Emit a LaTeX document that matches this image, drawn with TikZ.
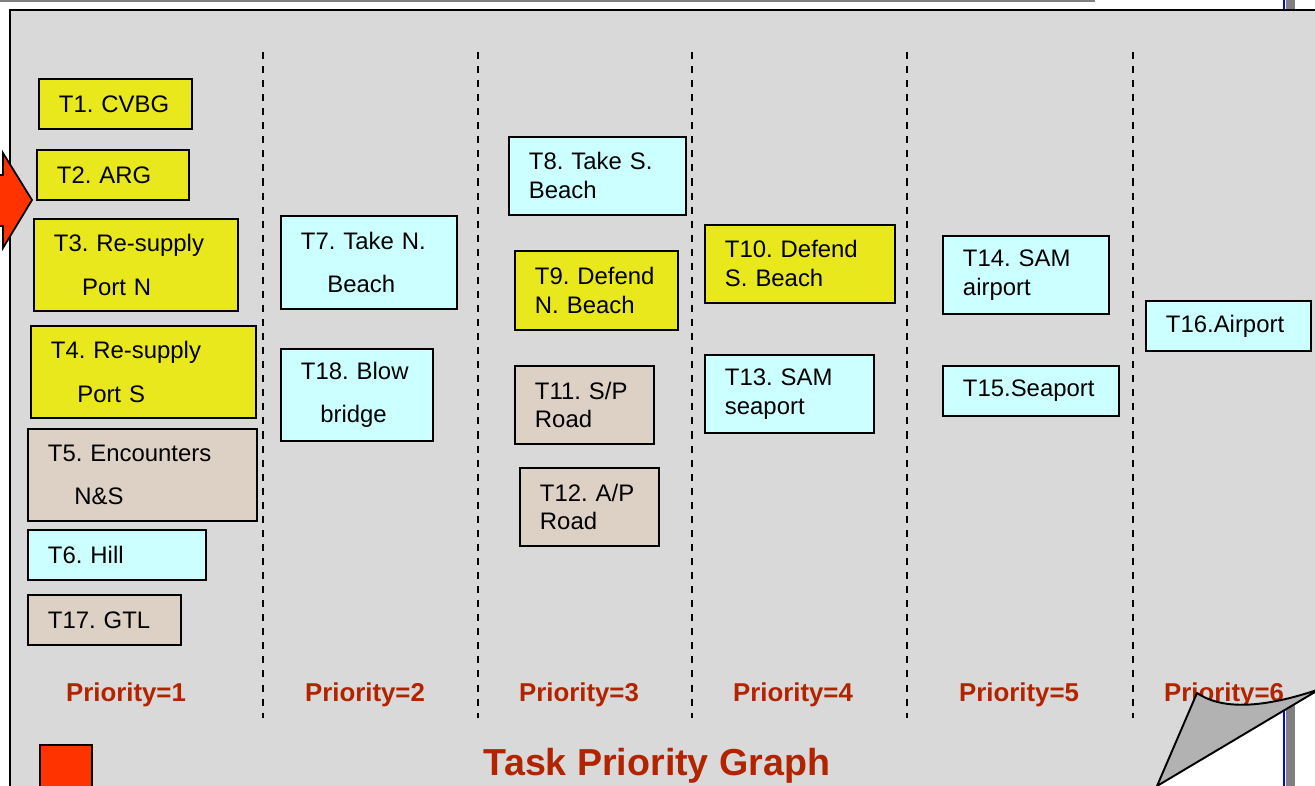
\documentclass[tikz,border=0pt]{standalone}
\usepackage{fontspec}
\setmainfont{Liberation Sans}

\definecolor{panelgray}{RGB}{217,217,217}
\definecolor{taskyellow}{RGB}{232,232,28}
\definecolor{taskcyan}{RGB}{204,255,255}
\definecolor{tasktan}{RGB}{221,208,197}
\definecolor{priored}{RGB}{178,36,0}
\definecolor{arrowred}{RGB}{255,51,0}
\definecolor{flapgray}{RGB}{178,178,178}
\definecolor{bargray}{RGB}{128,128,128}

\newcommand{\taskfont}{\fontsize{13.6pt}{16.5pt}\selectfont\frenchspacing\hyphenpenalty=10000\relax}

\tikzset{
	task/.style={draw, line width=1.1pt, anchor=north west, inner xsep=0.4cm, inner ysep=0pt, align=left, font=\taskfont},
	prio/.style={anchor=base, text=priored, font=\fontsize{14.7pt}{17pt}\selectfont\bfseries},
	divider/.style={dash pattern=on 4pt off 4pt, line width=1.1pt}
}

\begin{document}
\begin{tikzpicture}[x=0.02cm, y=-0.02cm]
	\useasboundingbox (0,0) rectangle (1315,786);
	\clip (0,0) rectangle (1315,786);
	% Page behind the slide:
	\draw[bargray, line width=1.5pt] (0,0.8) -- (1095,0.8);
	\fill[bargray] (1286,0) rectangle (1295,786);
	\draw[blue, line width=1.2pt] (1284,0) -- (1284,786);
	% Slide:
	\fill[panelgray] (10,10) -- (1320,10) -- (1320,689) -- (1157,786) -- (10,786) -- cycle;
	\draw[line width=1.5pt] (10,790) -- (10,10) -- (1320,10);
	\draw[divider] (263,52) -- (263,718);
	\draw[divider] (478,52) -- (478,718);
	\draw[divider] (692,52) -- (692,718);
	\draw[divider] (907,52) -- (907,718);
	\draw[divider] (1133,52) -- (1133,718);
	% Priority 1
	\node[task, fill=taskyellow, minimum width=3.06cm, minimum height=1cm, text width=2.26cm] (t1) at (38,78) {T1. CVBG};
	\node[task, fill=taskyellow, minimum width=3.04cm, minimum height=1cm, text width=2.24cm] (t2) at (36,149) {T2. ARG};
	\node[task, fill=taskyellow, minimum width=4.08cm, minimum height=1.84cm, text width=3.28cm] (t3) at (33,218) {T3. Re-supply\\[8pt]\hspace*{16pt}Port N};
	\node[task, fill=taskyellow, minimum width=4.5cm, minimum height=1.84cm, text width=3.7cm] (t4) at (30,325) {T4. Re-supply\\[8pt]\hspace*{15pt}Port S};
	\node[task, fill=tasktan, minimum width=4.58cm, minimum height=1.84cm, text width=3.78cm] (t5) at (27,428) {T5. Encounters\\[8pt]\hspace*{15pt}N\&S};
	\node[task, fill=taskcyan, minimum width=3.56cm, minimum height=1cm, text width=2.76cm] (t6) at (27,529) {T6. Hill};
	\node[task, fill=tasktan, minimum width=3.06cm, minimum height=1cm, text width=2.26cm] (t17) at (27,594) {T17. GTL};
	% Priority 2
	\node[task, fill=taskcyan, minimum width=3.52cm, minimum height=1.86cm, text width=2.72cm] (t7) at (280,215) {T7. Take N.\\[8pt]\hspace*{15pt}Beach};
	\node[task, fill=taskcyan, minimum width=3.04cm, minimum height=1.84cm, text width=2.24cm] (t18) at (280,348) {T18. Blow\\[8pt]\hspace*{11pt}bridge};
	% Priority 3
	\node[task, fill=taskcyan, minimum width=3.54cm, minimum height=1.56cm, text width=2.74cm] (t8) at (508,136) {T8. Take S.\\Beach};
	\node[task, fill=taskyellow, minimum width=3.26cm, minimum height=1.58cm, text width=2.46cm] (t9) at (514,250) {T9. Defend\\N. Beach};
	\node[task, fill=tasktan, minimum width=2.78cm, minimum height=1.56cm, text width=1.98cm] (t11) at (514,365) {T11. S/P\\Road};
	\node[task, fill=tasktan, minimum width=2.78cm, minimum height=1.56cm, text width=1.98cm] (t12) at (519,467) {T12. A/P\\Road};
	% Priority 4
	\node[task, fill=taskyellow, minimum width=3.8cm, minimum height=1.56cm, text width=3cm] (t10) at (704,224) {T10. Defend\\S. Beach};
	\node[task, fill=taskcyan, minimum width=3.38cm, minimum height=1.56cm, text width=2.58cm] (t13) at (704,354) {T13. SAM\\seaport};
	% Priority 5
	\node[task, fill=taskcyan, minimum width=3.32cm, minimum height=1.56cm, text width=2.52cm] (t14) at (942,235) {T14. SAM\\airport};
	\node[task, fill=taskcyan, minimum width=3.52cm, minimum height=1cm, text width=2.72cm] (t15) at (942,365) {T15.Seaport};
	% Priority 6
	\node[task, fill=taskcyan, minimum width=3.3cm, minimum height=1cm, text width=2.5cm] (t16) at (1145,300) {T16.Airport};
	% Labels:
	\foreach \n/\x in {1/126,2/365,3/579,4/793,5/1019,6/1224}
		\node[prio] (p\n) at (\x,702) {Priority=\n};
	\node[anchor=base, text=priored, font=\fontsize{21.4pt}{25pt}\selectfont\bfseries] (title) at (657,775) {Task Priority Graph};
	% Arrow, square and page curl:
	\filldraw[fill=arrowred, line width=1pt] (-10,175) -- (3,175) -- (3,153) -- (32,200) -- (3,248) -- (3,226) -- (-10,226) -- cycle;
	\filldraw[fill=arrowred, line width=1pt] (40,745) rectangle (92,800);
	\filldraw[fill=flapgray, line width=1.1pt, line join=round] (1157,786) -- (1197,693) .. controls (1225,712) and (1270,706) .. (1320,689) -- cycle;
\end{tikzpicture}
\end{document}
